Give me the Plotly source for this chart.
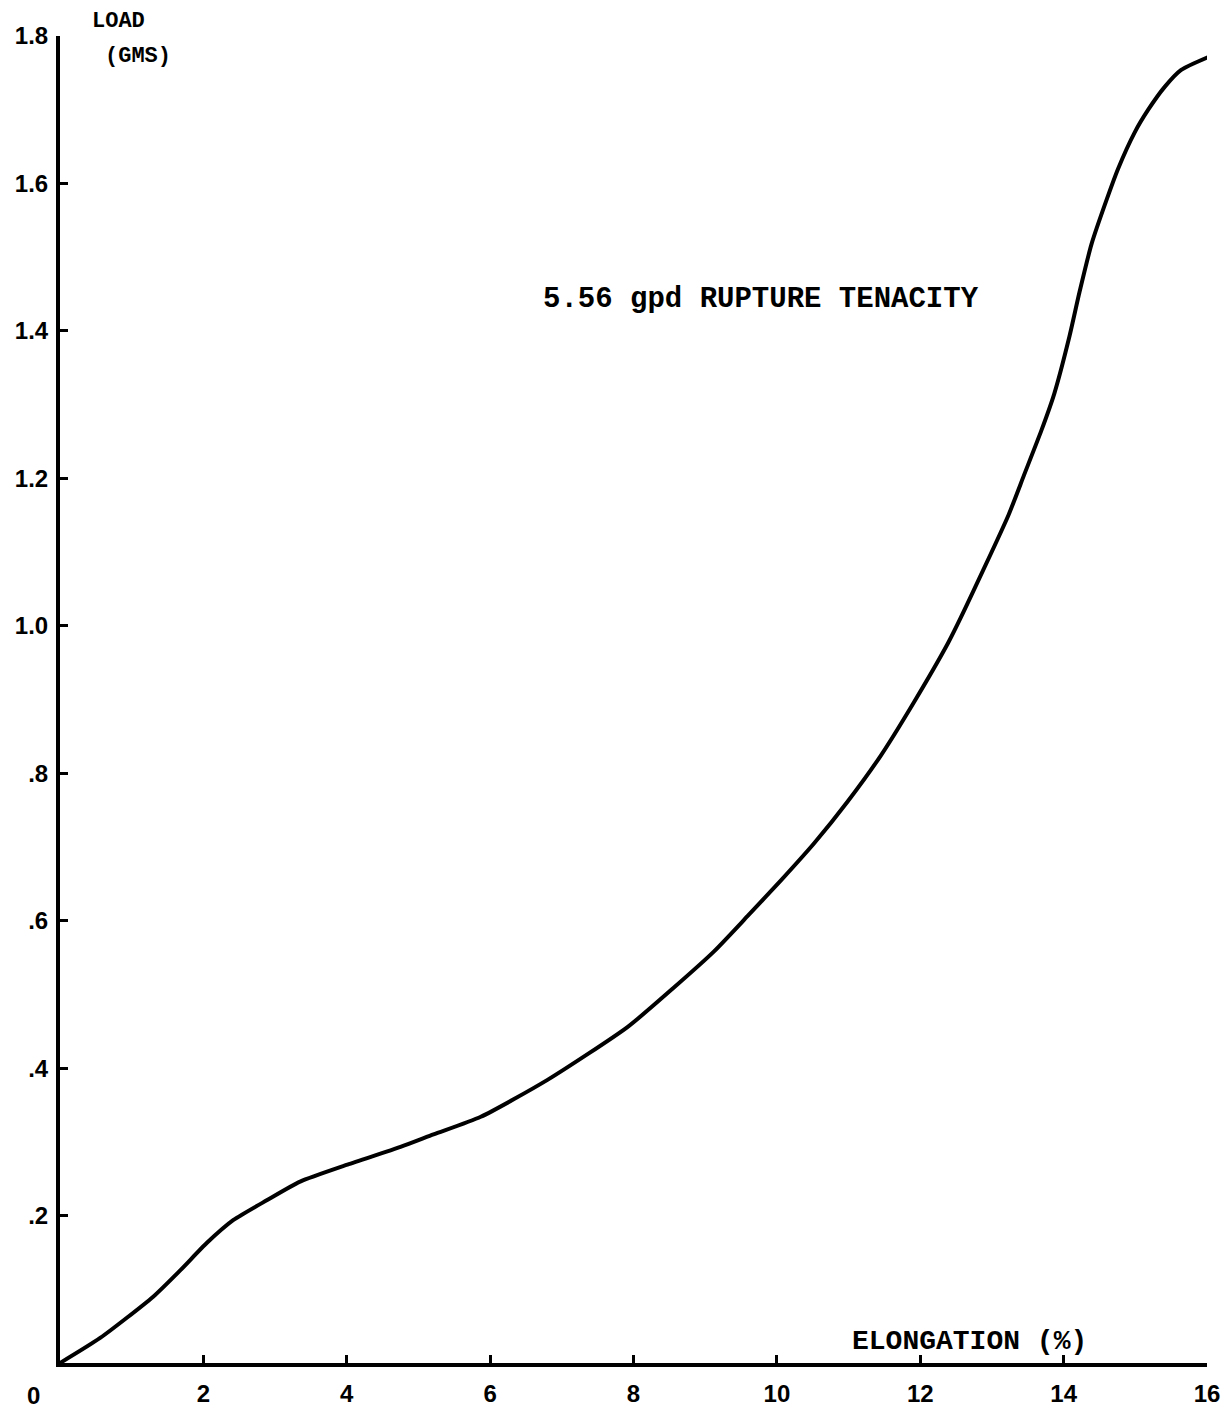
import plotly.graph_objects as go

# Elongation (%) and load (gms)
elongation = [0.0, 0.56, 1.30, 1.68, 2.05, 2.42, 2.89, 3.35, 4.01, 4.75, 5.21, 5.87,
              6.80, 7.92, 8.56, 9.12, 9.59, 10.06, 10.52, 10.99, 11.45, 11.91, 12.39,
              12.57, 13.23, 13.45, 13.69, 13.87, 14.08, 14.22, 14.39, 14.60,
              14.76, 14.99, 15.18, 15.41, 15.64, 16.03]
load = [0.0, 0.034, 0.090, 0.126, 0.163, 0.194, 0.221, 0.246, 0.269, 0.293, 0.310, 0.334,
        0.384, 0.456, 0.509, 0.558, 0.606, 0.655, 0.705, 0.762, 0.824, 0.896, 0.977,
        1.012, 1.150, 1.205, 1.265, 1.315, 1.392, 1.452, 1.518, 1.578,
        1.620, 1.669, 1.700, 1.731, 1.754, 1.772]

x_tickvals = [2, 4, 6, 8, 10, 12, 14, 16]
x_ticktext = ["2", "4", "6", "8", "10", "12", "14", "16"]
y_tickvals = [0.2, 0.4, 0.6, 0.8, 1.0, 1.2, 1.4, 1.6, 1.8]
y_ticktext = [".2", ".4", ".6", ".8", "1.0", "1.2", "1.4", "1.6", "1.8"]

annotation_text = "5.56 gpd RUPTURE TENACITY"
x_title = "ELONGATION (%)"
y_title_1 = "LOAD"
y_title_2 = "(GMS)"

fig = go.Figure()
fig.add_trace(go.Scatter(
    x=elongation, y=load, mode="lines",
    line=dict(color="black", width=4, shape="spline", smoothing=0.6),
    hoverinfo="skip", showlegend=False,
))

tick_font = dict(family="Liberation Sans", size=24, color="black", weight="bold")
mono = "Liberation Mono"

fig.update_layout(
    width=1230, height=1412,
    margin=dict(l=60, r=23, t=36, b=49, autoexpand=False),
    paper_bgcolor="white", plot_bgcolor="white",
    xaxis=dict(
        range=[0, 16], showgrid=False, zeroline=False, automargin=False,
        showline=True, linecolor="black", linewidth=4,
        ticks="inside", ticklen=8, tickwidth=3, tickcolor="black",
        tickvals=x_tickvals, ticktext=x_ticktext, tickfont=tick_font,
        ticklabelstandoff=6,
    ),
    yaxis=dict(
        range=[0, 1.8], showgrid=False, zeroline=False, automargin=False,
        showline=True, linecolor="black", linewidth=4,
        ticks="inside", ticklen=8, tickwidth=3, tickcolor="black",
        tickvals=y_tickvals, ticktext=y_ticktext, tickfont=tick_font,
        ticklabelstandoff=3,
    ),
    annotations=[
        dict(x=9.78, y=1.442, xref="x", yref="y", xanchor="center", yanchor="middle",
             text=annotation_text, showarrow=False,
             font=dict(family=mono, size=29, color="black", weight="bold")),
        dict(x=14.35, y=0.0, xref="x", yref="y", yshift=22, xanchor="right",
             yanchor="middle", text=x_title, showarrow=False,
             font=dict(family=mono, size=28, color="black", weight="bold")),
        dict(x=0.0, y=0.0, xref="paper", yref="paper", xshift=-27, yshift=-32,
             xanchor="center", yanchor="middle",
             text="0", showarrow=False, font=tick_font),
        dict(x=0.0, y=1.0, xref="paper", yref="paper", xshift=58, yshift=15,
             xanchor="center", yanchor="middle", text=y_title_1, showarrow=False,
             font=dict(family=mono, size=22, color="black", weight="bold")),
        dict(x=0.0, y=1.0, xref="paper", yref="paper", xshift=78, yshift=-20,
             xanchor="center", yanchor="middle", text=y_title_2, showarrow=False,
             font=dict(family=mono, size=22, color="black", weight="bold")),
    ],
)

fig.write_html("out.html", config={"displayModeBar": False},
               post_script="document.body.style.margin='0px';")
